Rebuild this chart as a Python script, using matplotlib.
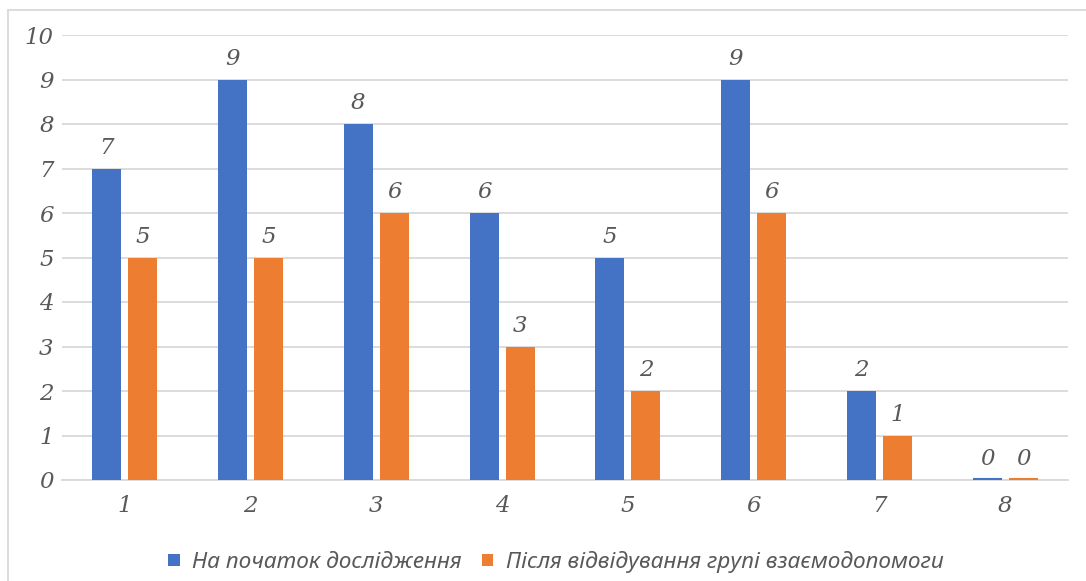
import matplotlib
matplotlib.use("Agg")
import matplotlib.pyplot as plt
import numpy as np
from matplotlib.patches import Rectangle

categories = ["1", "2", "3", "4", "5", "6", "7", "8"]
series_names = ["На початок дослідження", "Після відвідування групі взаємодопомоги"]
before = [7, 9, 8, 6, 5, 9, 2, 0]
after = [5, 5, 6, 3, 2, 6, 1, 0]
yticks = [0, 1, 2, 3, 4, 5, 6, 7, 8, 9, 10]

blue = "#4472C4"
orange = "#ED7D31"
text_color = "#595959"
num_font = dict(family="DejaVu Serif", style="italic")
leg_font = dict(family="Noto Sans", style="italic")

fig = plt.figure(figsize=(10.86, 5.81), dpi=100)
W, H = 1086, 581
ax = fig.add_axes([62 / W, 1 - 480 / H, (1068 - 62) / W, (480 - 35) / H])

x = np.arange(len(categories))
bw = 0.23
off = 0.143
b1 = ax.bar(x - off, before, bw, color=blue, label=series_names[0], zorder=3)
b2 = ax.bar(x + off, after, bw, color=orange, label=series_names[1], zorder=3)
for bars, vals in ((b1, before), (b2, after)):
    for r, v in zip(bars, vals):
        if v == 0:
            ax.plot([r.get_x(), r.get_x() + r.get_width()], [0.02, 0.02],
                    color=r.get_facecolor(), lw=1.5, zorder=4, solid_capstyle="butt")
        ax.text(r.get_x() + r.get_width() / 2, v + 0.22, str(v), ha="center", va="bottom",
                fontsize=16.5, color=text_color, **num_font)

ax.set_xlim(-0.5, len(categories) - 0.5)
ax.set_ylim(0, 10)
ax.set_yticks(yticks)
ax.set_yticklabels([str(t) for t in yticks], fontsize=16.5, color=text_color, **num_font)
ax.set_xticks(x)
ax.set_xticklabels(categories, fontsize=16.5, color=text_color, **num_font)
ax.tick_params(axis="both", length=0)
ax.tick_params(axis="y", pad=6)
ax.tick_params(axis="x", pad=11)
ax.grid(axis="y", color="#D9D9D9", lw=1.3, zorder=0)
for s in ["top", "right", "left"]:
    ax.spines[s].set_visible(False)
ax.spines["bottom"].set_color("#D9D9D9")
ax.spines["bottom"].set_linewidth(1.3)
ax.spines["bottom"].set_zorder(1)

leg = fig.legend(handles=[b1, b2], loc="center", bbox_to_anchor=(556 / W, 1 - 562 / H),
                 ncol=2, frameon=False, handlelength=0.5, handleheight=0.5, handletextpad=0.55,
                 columnspacing=0.9, prop=dict(size=16.3, **leg_font))
for t in leg.get_texts():
    t.set_color(text_color)

fig.patches.append(Rectangle((8 / W, -0.1), 1.2, 1 - 10 / H + 0.1, transform=fig.transFigure,
                             fill=False, edgecolor="#D9D9D9", lw=1.3))

fig.savefig("out.png", dpi=100, facecolor="white")
